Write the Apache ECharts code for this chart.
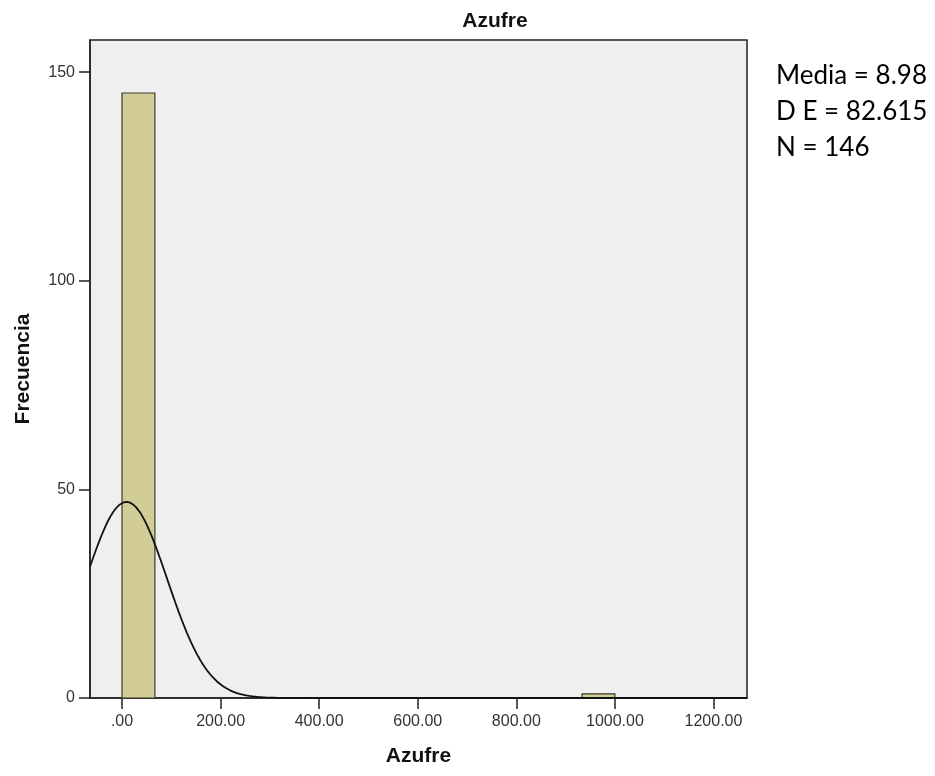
<!DOCTYPE html>
<html><head><meta charset="utf-8">
<script src="https://cdn.jsdelivr.net/npm/echarts@6/dist/echarts.min.js"></script>
<style>html,body{margin:0;padding:0;background:#fff}#c{width:935px;height:776px}</style>
</head><body><div id="c"></div>
<script>
// Histogram bins: [start, end, count]
const binStarts = [0, 933.33];
const binEnds = [66.67, 1000];
const binCounts = [145, 1];
const xTicks = [0, 200, 400, 600, 800, 1000, 1200];
const yTicks = [0, 50, 100, 150];
const stats = { mean: 8.98, sd: 82.615, n: 146 };
const statLines = ['Media = 8.98', 'D E = 82.615', 'N = 146'];
const binWidth = 66.67;
const xMin = -65, xMax = 1268;

const chart = echarts.init(document.getElementById('c'), null, {renderer: 'canvas'});

const barData = binStarts.map((s, i) => [s, binEnds[i], binCounts[i]]);
// normal curve overlay defined by the displayed stats
const curve = [];
for (let i = 0; i <= 400; i++) {
  const x = xMin + (xMax - xMin) * i / 400;
  const z = (x - stats.mean) / stats.sd;
  curve.push([x, stats.n * binWidth / (stats.sd * Math.sqrt(2 * Math.PI)) * Math.exp(-0.5 * z * z)]);
}

const fmtX = v => v === 0 ? '.00' : v.toFixed(2);
const ff = 'Liberation Sans, Arial, sans-serif';
const labFont = {fontFamily: ff, fontSize: 16, color: '#333'};
const nameFont = {fontFamily: ff, fontSize: 21, fontWeight: 'bold', color: '#111'};

chart.setOption({
  animation: false,
  title: {
    text: 'Azufre', left: 490, top: 6, textAlign: 'center',
    textStyle: nameFont
  },
  graphic: statLines.map((t, i) => ({
    type: 'text', left: 776, top: 63 + i * 36,
    style: {text: t, font: '26px Lato, "Open Sans", sans-serif', fill: '#000'}
  })),
  grid: {left: 90, top: 40, width: 657, height: 658, show: true, backgroundColor: '#EFEFEF', borderColor: '#222', borderWidth: 1.5},
  xAxis: {
    type: 'value', min: xMin, max: xMax,
    name: 'Azufre', nameLocation: 'middle', nameGap: 48,
    nameTextStyle: nameFont,
    axisLine: {show: true, onZero: false, lineStyle: {color: '#222', width: 1.5}},
    axisTick: {show: true, customValues: xTicks, length: 11, lineStyle: {color: '#222', width: 1.5}},
    axisLabel: Object.assign({customValues: xTicks, formatter: fmtX, margin: 16}, labFont),
    splitLine: {show: false}
  },
  yAxis: {
    type: 'value', min: 0, max: 157.7,
    name: 'Frecuencia', nameLocation: 'middle', nameGap: 56, nameRotate: 90,
    nameTextStyle: nameFont,
    axisLine: {show: true, onZero: false, lineStyle: {color: '#222', width: 1.5}},
    axisTick: {show: true, customValues: yTicks, length: 11, lineStyle: {color: '#222', width: 1.5}},
    axisLabel: Object.assign({customValues: yTicks, margin: 15}, labFont),
    splitLine: {show: false}
  },
  series: [
    {
      type: 'custom',
      data: barData,
      encode: {x: [0, 1], y: 2},
      renderItem: function (params, api) {
        const p0 = api.coord([api.value(0), 0]);
        const p1 = api.coord([api.value(1), api.value(2)]);
        return {
          type: 'rect',
          shape: {x: p0[0], y: p1[1], width: p1[0] - p0[0], height: p0[1] - p1[1]},
          style: {fill: '#D2CD96', stroke: '#3a3a2a', lineWidth: 1.2}
        };
      },
      z: 2
    },
    {
      type: 'line', data: curve, showSymbol: false, symbol: 'none', smooth: false,
      lineStyle: {color: '#111', width: 1.8}, clip: true, z: 3
    }
  ]
});
</script></body></html>
